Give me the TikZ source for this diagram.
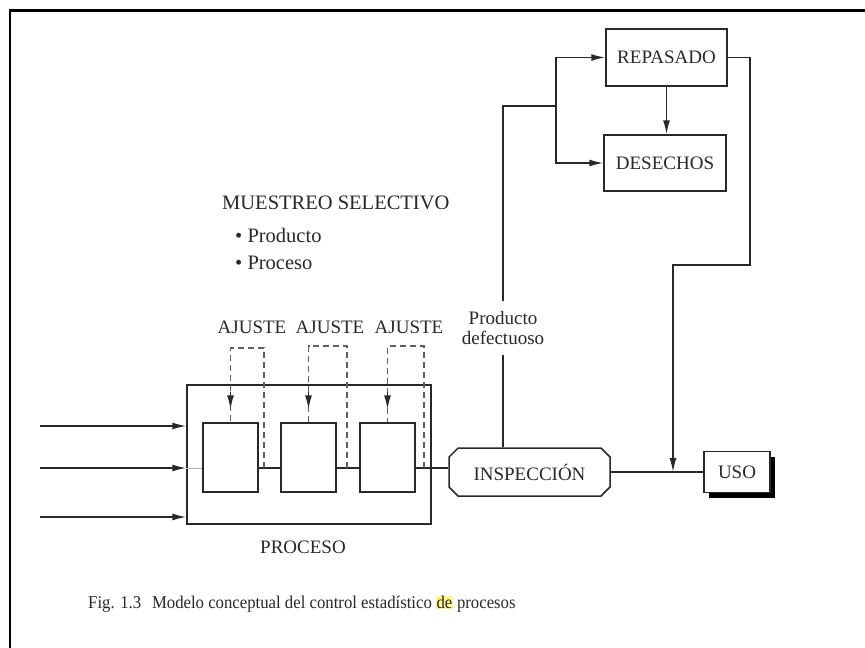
\documentclass[tikz,border=0pt]{standalone}
\usepackage{fontspec}
\setmainfont{Liberation Serif}
\newfontfamily\capfont{Liberation Serif}[FakeStretch=0.93]
\usetikzlibrary{arrows.meta,shapes.misc,shadows}
\definecolor{hl}{RGB}{255,245,140}
\definecolor{ink}{RGB}{40,40,40}
\begin{document}
\begin{tikzpicture}[x=1pt,y=-1pt,
  every node/.style={font=\fontsize{19}{20}\selectfont, text=ink, inner sep=0pt},
  big/.style={font=\fontsize{20.5}{22}\selectfont},
  box/.style={draw=ink, line width=1.5pt, inner sep=0pt},
  ln/.style={draw=ink, line width=1.5pt},
  arr/.style={ln, -{Latex[length=14pt,width=7pt]}},
  adj/.style={draw=ink!75, line width=1.2pt, dash pattern=on 6pt off 4pt},
]
\useasboundingbox (0,0) rectangle (865,648);
\fill[white] (0,0) rectangle (865,648);
% frame
\draw[black, line width=1.6pt] (10,648) -- (10,10);
\draw[black, line width=2.2pt] (9.2,10.5) -- (865,10.5);

% top boxes
\node[box, minimum width=121pt, minimum height=57pt] (rep) at (666.5,57.5) {REPASADO};
\node[box, minimum width=122pt, minimum height=56pt] (des) at (665,163) {DESECHOS};
\draw[arr] (rep.south) -- (rep.south |- des.north);

% inspection and use
\node[box, chamfered rectangle, chamfered rectangle xsep=6pt, minimum width=161pt, minimum height=48pt] (insp) at (529.5,472) {INSPECCIÓN};
\node[box, fill=white, minimum width=66pt, minimum height=41pt,
      drop shadow={opacity=1, fill=black, shadow xshift=5pt, shadow yshift=-5pt}] (uso) at (737,472) {USO};
\draw[draw=ink, line width=2.2pt] (insp.east) -- (uso.west);

% process
\node[box, minimum width=244pt, minimum height=139pt] (proc) at (309,454.5) {};
\node[box, minimum width=55pt, minimum height=69pt] (b1) at (230.5,457.5) {};
\node[box, minimum width=55pt, minimum height=69pt] (b2) at (308.5,457.5) {};
\node[box, minimum width=55pt, minimum height=69pt] (b3) at (387.5,457.5) {};
\coordinate (e1) at ([yshift=-10.5pt]b1.east);
\coordinate (e2) at ([yshift=-10.5pt]b2.east);
\coordinate (e3) at ([yshift=-10.5pt]b3.east);
\draw[ln] (e1) -- (e1 -| b2.west);
\draw[ln] (e2) -- (e2 -| b3.west);
\draw[ln] (e3) -- (e3 -| insp.west);
\draw[draw=black!30, line width=0.6pt] (e1 -| proc.west) -- (e1 -| b1.west);

% inputs
\coordinate (in1) at (40,426);
\coordinate (in2) at (40,468);
\coordinate (in3) at (40,517);
\draw[arr] (in1) -- (in1 -| proc.west);
\draw[arr] (in2) -- (in2 -| proc.west);
\draw[arr] (in3) -- (in3 -| proc.west);

% adjustment loops
\coordinate (j1) at (264,468); \coordinate (t1) at (264,348);
\coordinate (j2) at (347,468); \coordinate (t2) at (347,346);
\coordinate (j3) at (424,468); \coordinate (t3) at (424,346);
\draw[adj] (j1) -- (t1) -| (b1.north);
\draw[adj] (j2) -- (t2) -| (b2.north);
\draw[adj] (j3) -- (t3) -| (b3.north);
\draw[arr] ([yshift=30pt]b1.north) -- ([yshift=13pt]b1.north);
\draw[arr] ([yshift=30pt]b2.north) -- ([yshift=13pt]b2.north);
\draw[arr] ([yshift=30pt]b3.north) -- ([yshift=13pt]b3.north);
\node (a1) at (252,327) {AJUSTE};
\node (a2) at (330,327) {AJUSTE};
\node (a3) at (409,327) {AJUSTE};
\node (pl) at (303,547) {PROCESO};

% defective product path
\node[align=center, inner ysep=10pt] (pd) at (503,328) {Producto\\defectuoso};
\coordinate (k1) at (503,106);
\coordinate (k2) at (556,106);
\draw[ln] (pd.south) -- (pd.south |- insp.north);
\draw[ln] (pd.north) -- (k1) -- (k2);
\draw[arr] (k2) |- (rep.west);
\draw[arr] (k2) |- (des.west);

% rework to use
\coordinate (r1) at (750,265);
\coordinate (r2) at (673,265);
\coordinate (uj) at (673,472);
\draw[arr] (rep.east) -| (r1) -- (r2) -- (uj);

% sampling text
\node[big, anchor=west] (ms) at (222,203) {MUESTREO SELECTIVO};
\node[big, anchor=west] (m1) at (235,235) {\textbullet\ Producto};
\node[big, anchor=west] (m2) at (235,263) {\textbullet\ Proceso};

% caption
\node[anchor=west, font=\capfont\fontsize{18}{20}\selectfont] (cap) at (88,604) {Fig. 1.3\hspace{0.6em}Modelo conceptual del control estadístico {\fboxsep=0.5pt\colorbox{hl}{de}} procesos};
\end{tikzpicture}
\end{document}
